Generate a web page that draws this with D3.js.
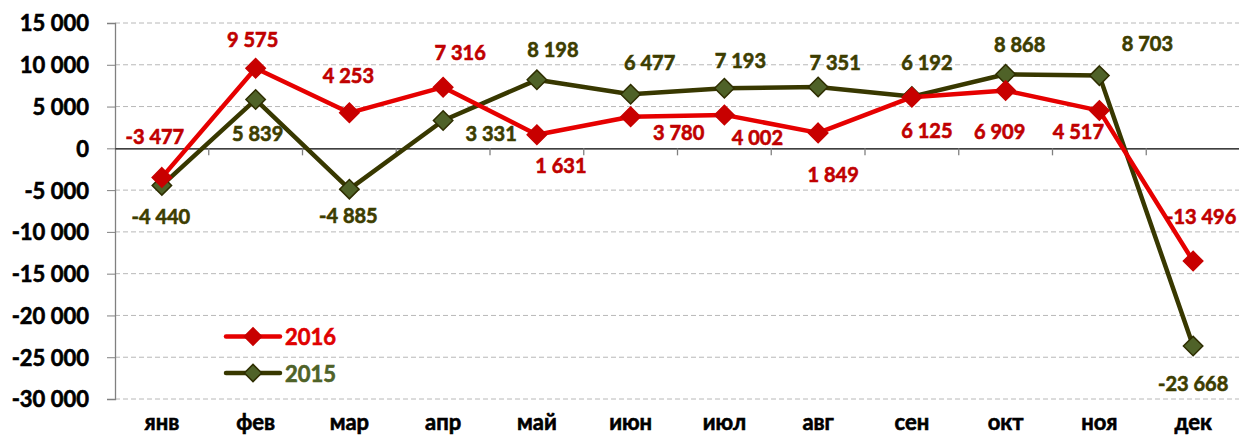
<!DOCTYPE html>
<html><head><meta charset="utf-8">
<script src="https://cdn.jsdelivr.net/npm/d3@7/dist/d3.min.js"></script>
<style>
html,body{margin:0;padding:0;background:#fff;}
svg{display:block;font-family:Lato,"Open Sans",sans-serif;font-weight:bold;}
text{paint-order:stroke;stroke-width:0.6px;}
</style></head>
<body>
<svg id="chart" width="1239" height="437"></svg>
<script>
const months = ["янв","фев","мар","апр","май","июн","июл","авг","сен","окт","ноя","дек"];
const values2016 = [-3477, 9575, 4253, 7316, 1631, 3780, 4002, 1849, 6125, 6909, 4517, -13496];
const values2015 = [-4440, 5839, -4885, 3331, 8198, 6477, 7193, 7351, 6192, 8868, 8703, -23668];
const yTicks = [15000, 10000, 5000, 0, -5000, -10000, -15000, -20000, -25000, -30000];
const seriesNames = ["2016", "2015"];

// label offsets (dx, dy of baseline relative to point) - layout only
const labelOff2016 = [[-7,-33],[-3,-21],[-1,-30],[17,-27],[24,38],[48,23],[33,30],[15,49],[15,41],[-6,48],[-21,28],[8,-37]];
const labelOff2015 = [[-1,39],[2,41],[-1,34],[48,20],[16,-23],[19,-24],[16,-20],[17,-17],[15,-27],[14,-22],[48,-25],[0,45]];

const svg = d3.select("#chart");
const mLeft = 115, mRight = 1240, mTop = 23, mBottom = 399;

const x = d3.scaleBand().domain(months).range([mLeft, mRight]);
const y = d3.scaleLinear().domain([-30000, 15000]).range([mBottom, mTop]);
const fmt = v => (v < 0 ? "-" : "") + d3.format(",")(Math.abs(v)).replace(/,/g, " ");

// gridlines
svg.append("g").selectAll("line").data(yTicks.filter(t => t !== 0)).join("line")
  .attr("x1", mLeft).attr("x2", mRight)
  .attr("y1", d => y(d)).attr("y2", d => y(d))
  .attr("stroke", "#b8b8b8").attr("stroke-width", 1).attr("stroke-dasharray", "5,3");

// y axis
const yAxis = d3.axisLeft(y).tickValues(yTicks).tickSize(8).tickFormat(fmt);
const gy = svg.append("g").attr("transform", `translate(${mLeft},0)`).call(yAxis);
gy.select(".domain").attr("stroke", "#808080").attr("stroke-width", 1.3);
gy.selectAll(".tick line").attr("stroke", "#808080");
gy.selectAll(".tick text").attr("font-size", 22).attr("font-family", "Lato").attr("font-weight", "bold")
  .attr("fill", "#000").attr("stroke", "#000").attr("x", -26).attr("dy", "0.36em");

// x axis at zero
const xAxis = d3.axisBottom(x).tickSize(0).tickFormat(d => d);
const gx = svg.append("g").attr("transform", `translate(0,${y(0)})`).call(xAxis);
gx.select(".domain").attr("stroke", "#000").attr("stroke-width", 1.3);
gx.selectAll(".tick text").attr("font-size", 22).attr("font-family", "Lato").attr("font-weight", "bold")
  .attr("fill", "#000").attr("stroke", "#000").attr("y", 430 - y(0)).attr("dy", 0);
// band boundary ticks
svg.append("g").selectAll("line").data(months).join("line")
  .attr("x1", d => x(d) + x.bandwidth()).attr("x2", d => x(d) + x.bandwidth())
  .attr("y1", y(0)).attr("y2", y(0) + 7).attr("stroke", "#808080").attr("stroke-width", 1.3);

const line = d3.line().x((d, i) => x(months[i]) + x.bandwidth() / 2).y(d => y(d));
const diamond = d3.symbol().type(d3.symbolDiamond2).size(240);

function drawSeries(vals, lineColor, fill, stroke, labelColor, offs) {
  svg.append("path").datum(vals).attr("d", line).attr("fill", "none")
    .attr("stroke", lineColor).attr("stroke-width", 4.5).attr("stroke-linejoin", "round");
  svg.append("g").selectAll("path").data(vals).join("path")
    .attr("d", diamond)
    .attr("transform", (d, i) => `translate(${x(months[i]) + x.bandwidth() / 2},${y(d)})`)
    .attr("fill", fill).attr("stroke", stroke).attr("stroke-width", 1.5);
  svg.append("g").selectAll("text").data(vals).join("text")
    .attr("x", (d, i) => x(months[i]) + x.bandwidth() / 2 + offs[i][0])
    .attr("y", (d, i) => y(d) + offs[i][1])
    .attr("text-anchor", "middle").attr("font-size", 20).attr("fill", labelColor).attr("stroke", labelColor)
    .text(d => fmt(d));
}

drawSeries(values2015, "#383800", "#4f6228", "#2e2e00", "#3d3d00", labelOff2015);
drawSeries(values2016, "#e60000", "#c80000", "#c80000", "#c00000", labelOff2016);

// legend
const legend = [
  {name: seriesNames[0], line: "#e60000", fill: "#c80000", stroke: "#c80000", text: "#e00000", y: 336.5},
  {name: seriesNames[1], line: "#383800", fill: "#4f6228", stroke: "#2e2e00", text: "#4f6228", y: 373}
];
const lg = svg.append("g").selectAll("g").data(legend).join("g");
lg.append("line").attr("x1", 226).attr("x2", 280).attr("y1", d => d.y).attr("y2", d => d.y)
  .attr("stroke", d => d.line).attr("stroke-width", 4.5).attr("stroke-linecap", "round");
lg.append("path").attr("d", d3.symbol().type(d3.symbolDiamond2).size(190))
  .attr("transform", d => `translate(253,${d.y})`)
  .attr("fill", d => d.fill).attr("stroke", d => d.stroke).attr("stroke-width", 1.5);
lg.append("text").attr("x", 285).attr("y", d => d.y + 8.5).attr("font-size", 22)
  .attr("fill", d => d.text).attr("stroke", d => d.text).text(d => d.name);
</script>
</body></html>
